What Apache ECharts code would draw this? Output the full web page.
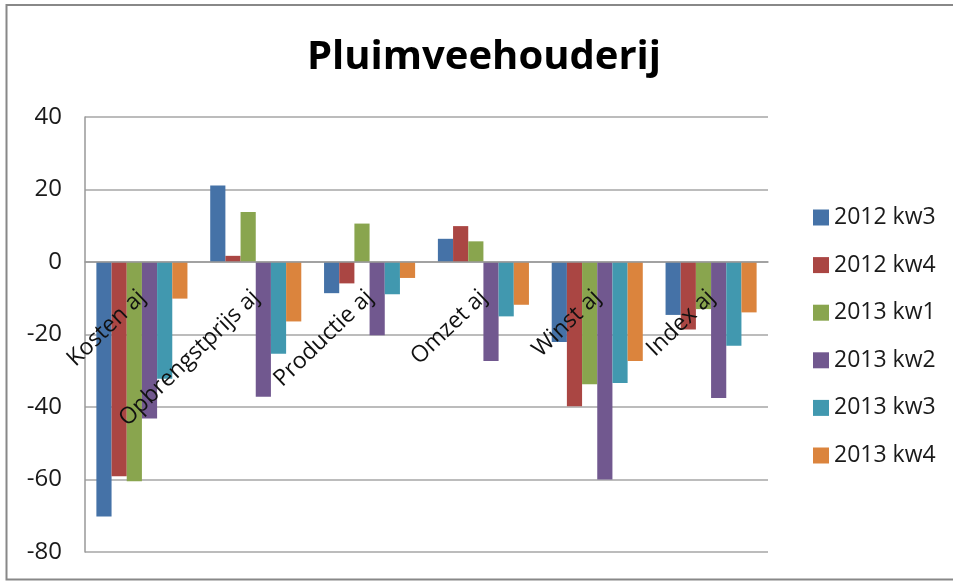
<!DOCTYPE html>
<html>
<head>
<meta charset="utf-8">
<title>Pluimveehouderij</title>
<script src="https://cdn.jsdelivr.net/npm/echarts@6/dist/echarts.min.js"></script>
<style>
  html, body { margin: 0; padding: 0; background: #fff; }
  #chart { width: 953px; height: 581px; }
</style>
</head>
<body>
<div id="chart"></div>
<script>
const categories = ['Kosten aj', 'Opbrengstprijs aj', 'Productie aj', 'Omzet aj', 'Winst aj', 'Index aj'];
const seriesNames = ['2012 kw3', '2012 kw4', '2013 kw1', '2013 kw2', '2013 kw3', '2013 kw4'];

// values per period, in category order
const kw3_2012 = [-70.2, 21.1, -8.6, 6.4, -22.1, -14.6];
const kw4_2012 = [-59.1, 1.7, -5.9, 9.9, -39.8, -18.6];
const kw1_2013 = [-60.5, 13.8, 10.6, 5.7, -33.7, -13.0];
const kw2_2013 = [-43.2, -37.2, -20.2, -27.3, -60.0, -37.5];
const kw3_2013 = [-32.2, -25.3, -8.9, -15.0, -33.4, -23.1];
const kw4_2013 = [-10.1, -16.4, -4.4, -11.8, -27.3, -13.9];

const yTicks = [-80, -60, -40, -20, 0, 20, 40];

const values = [kw3_2012, kw4_2012, kw1_2013, kw2_2013, kw3_2013, kw4_2013];
const colors = ['#4572A7', '#AA4643', '#89A54E', '#71588F', '#4198AF', '#DB843D'];
const font = '"Open Sans", "Noto Sans", sans-serif';

const gridTop = 117;
const gridBottom = 29;
const plotHeight = 581 - gridTop - gridBottom;
// category axis sits on the zero line: shift it up from the bottom edge
const zeroShift = plotHeight * (0 - yTicks[0]) / (yTicks[yTicks.length - 1] - yTicks[0]);

const chart = echarts.init(document.getElementById('chart'));

chart.setOption({
  backgroundColor: '#fff',
  animation: false,
  color: colors,
  title: {
    text: 'Pluimveehouderij',
    left: 302,
    top: 33,
    textStyle: {
      fontFamily: font,
      fontSize: 40,
      fontWeight: 'bold',
      color: '#000'
    }
  },
  legend: {
    orient: 'vertical',
    left: 808,
    top: 201,
    itemWidth: 16,
    itemHeight: 16,
    itemGap: 24.6,
    icon: 'rect',
    data: seriesNames,
    textStyle: {
      fontFamily: font,
      fontSize: 23,
      lineHeight: 22,
      color: '#1a1a1a'
    }
  },
  grid: {
    left: 85,
    right: 185,
    top: gridTop,
    bottom: gridBottom,
    outerBoundsMode: 'none'
  },
  xAxis: {
    type: 'category',
    data: categories,
    z: 10,
    offset: -zeroShift,
    axisLine: { onZero: false, lineStyle: { color: '#999', width: 1.5 } },
    axisTick: { show: false },
    axisLabel: {
      rotate: 44,
      margin: 32,
      interval: 0,
      fontFamily: font,
      fontSize: 23,
      color: '#111'
    }
  },
  yAxis: {
    type: 'value',
    min: yTicks[0],
    max: yTicks[yTicks.length - 1],
    interval: 20,
    axisLine: { show: true, lineStyle: { color: '#999', width: 1.5 } },
    axisTick: { show: false },
    axisLabel: {
      margin: 23,
      fontFamily: font,
      fontSize: 24,
      color: '#1a1a1a'
    },
    splitLine: { lineStyle: { color: '#a6a6a6', width: 1.5 } }
  },
  series: seriesNames.map((name, i) => ({
    name: name,
    type: 'bar',
    data: values[i],
    barGap: '0%',
    barCategoryGap: '20%',
    itemStyle: { color: colors[i] }
  })),
  graphic: [{
    type: 'rect',
    shape: { x: 6.5, y: 5, width: 960, height: 574.5 },
    style: { fill: 'none', stroke: '#888', lineWidth: 2 },
    silent: true,
    z: 100
  }]
});
</script>
</body>
</html>
